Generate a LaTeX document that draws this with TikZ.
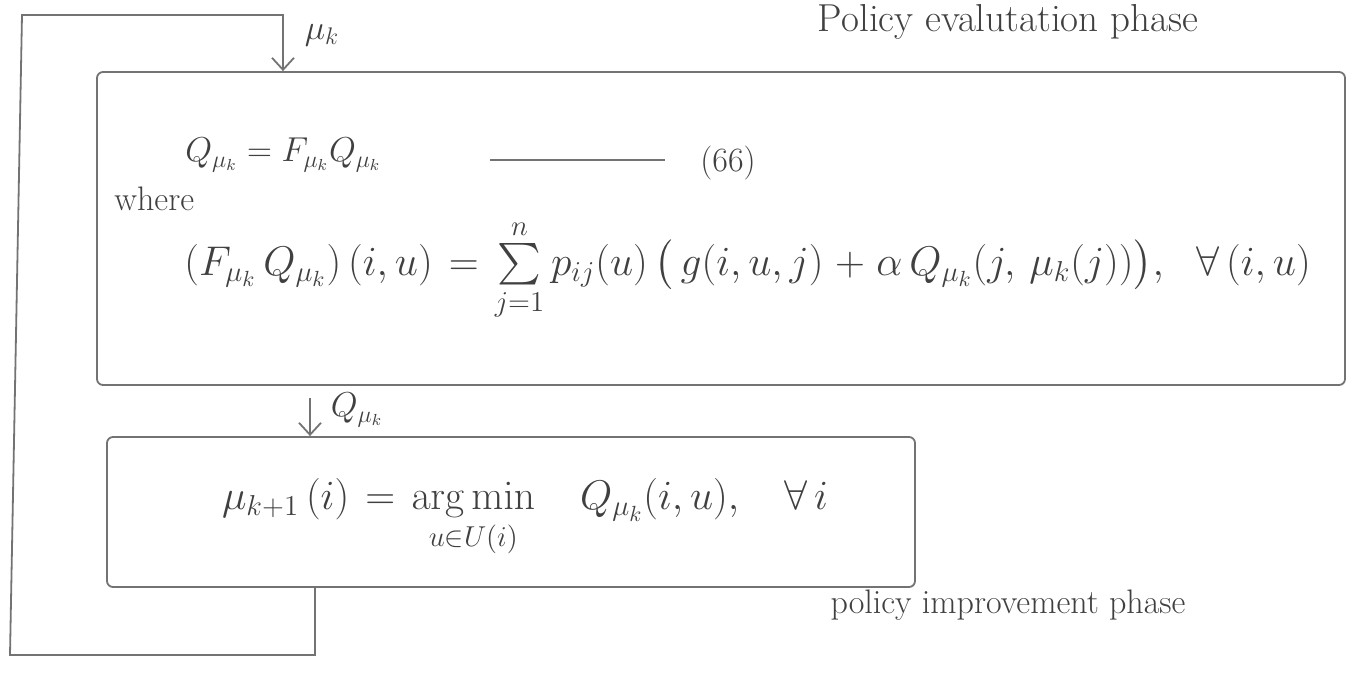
\documentclass[tikz,border=0pt]{standalone}
\usepackage{amsmath}
\usetikzlibrary{arrows.meta,fit}
\newcommand\midmathsp{\medmuskip=5mu\relax\thickmuskip=7mu\relax}
\begin{document}
\begin{tikzpicture}[x=0.5pt,y=-0.5pt,
  pen/.style={draw=black!55, line width=0.9pt},
  box/.style={pen, rounded corners=3pt, rectangle, inner sep=0pt},
  lbl/.style={text=black!75, font=\fontsize{17}{20}\selectfont, inner sep=1pt},
  biglbl/.style={lbl, font=\fontsize{21}{24}\selectfont},
  arr/.style={pen, -{Straight Barb[length=6pt,width=11pt]}}]
\useasboundingbox (0,0) rectangle (1359,675);
% boxes
\node[box, fit={(97,72) (1345,385)}] (eval) {};
\node[box, fit={(107,437) (915,587)}] (impr) {};
% labels
\node[lbl] (mu) at (322,35) {$\mu_k$};
\node[lbl, font=\fontsize{19.5}{22}\selectfont] (evalphase) at (1008,22) {Policy evalutation phase};
\node[lbl, anchor=west] (qeq) at (183,155) {$Q_{\mu_k} = F_{\mu_k} Q_{\mu_k}$};
\coordinate (d1) at (490,160);
\coordinate (d2) at (665,160);
\node[lbl] (ref) at (728,163) {(66)};
\draw[pen] (d1) -- (d2);
\node[lbl, anchor=west] (where) at (112,199) {where};
\node[biglbl, anchor=west, inner sep=0pt] (bell) at (184,270) {$\midmathsp (F_{\mu_k}\, Q_{\mu_k})\,(i,u) = \sum\limits_{j=1}^{n} p_{ij}(u)\,\bigl(\,g(i,u,j) + \alpha\, Q_{\mu_k}(j,\,\mu_k(j))\bigr),\ \ \forall\,(i,u)$};
\node[lbl] (qmu) at (357,410) {$Q_{\mu_k}$};
\node[biglbl] (pi) at (525,518) {$\midmathsp\displaystyle \mu_{k+1}\,(i) = \mathop{\arg\min}\limits_{u\in U(i)}\ \ \ Q_{\mu_k}(i,u),\ \ \ \forall\, i$};
\node[lbl] (imprphase) at (1008,605) {policy improvement phase};
% connectors
\coordinate (qx) at (310,0);
\draw[arr, shorten <=6pt] (eval.south -| qx) -- (impr.north -| qx);
\coordinate (lb1) at (315,655);
\coordinate (lb2) at (10,655);
\coordinate (lt1) at (22,15);
\coordinate (lt2) at (283,15);
\draw[arr] (impr.south -| lb1) -- (lb1) -- (lb2) -- (lt1) -- (lt2) -- (eval.north -| lt2);
\end{tikzpicture}
\end{document}
